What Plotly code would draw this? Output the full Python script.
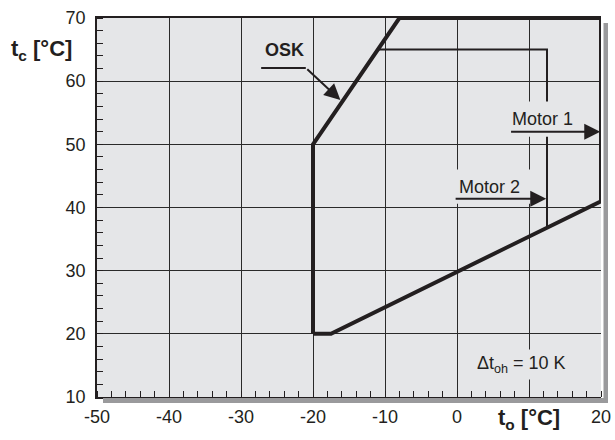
import plotly.graph_objects as go

# ---- data ----
boundary_to = [-20, -20, -8, 20, 20, -17.5, -20]
boundary_tc = [20, 50, 70, 70, 41, 20, 20]
motor_to = [-11, 12.5, 12.5]
motor_tc = [65, 65, 36.8]
x_ticks = [-50, -40, -30, -20, -10, 0, 10, 20]
x_labels = ["-50", "-40", "-30", "-20", "-10", "0", "", "20"]
y_ticks = [10, 20, 30, 40, 50, 60, 70]
y_labels = ["10", "20", "30", "40", "50", "60", "70"]

BG = "#e5e6e8"
INK = "#231f20"
FONT = "Liberation Sans, Arial, sans-serif"

fig = go.Figure()
fig.add_trace(go.Scatter(x=motor_to, y=motor_tc, mode="lines",
                         line=dict(color=INK, width=2), cliponaxis=False,
                         hoverinfo="skip", showlegend=False))
fig.add_trace(go.Scatter(x=boundary_to, y=boundary_tc, mode="lines",
                         line=dict(color=INK, width=4), cliponaxis=False,
                         hoverinfo="skip", showlegend=False))

W, H = 504, 379  # plot area in px
shapes = [
    # drop shadows
    dict(type="rect", xref="paper", yref="paper", x0=1 + 2.5 / W, x1=1 + 7 / W,
         y0=-6 / H, y1=1 - 5 / H, fillcolor="#9a9a9c", line=dict(width=0), layer="above"),
    dict(type="rect", xref="paper", yref="paper", x0=6 / W, x1=1 + 7 / W,
         y0=-6 / H, y1=-1 / H, fillcolor="#9a9a9c", line=dict(width=0), layer="above"),
    # knockouts behind labels
    dict(type="rect", xref="x", yref="y", x0=6.5, x1=17.5, y0=51.2, y1=56.8,
         fillcolor=BG, line=dict(width=0), layer="above"),
    dict(type="rect", xref="x", yref="y", x0=-0.7, x1=11.8, y0=40.6, y1=46.0,
         fillcolor=BG, line=dict(width=0), layer="above"),
    # OSK leader horizontal
    dict(type="line", xref="x", yref="y", x0=-27.2, x1=-21.0, y0=62.1, y1=62.1,
         line=dict(color=INK, width=2), layer="above"),
]

ann = [
    dict(x=-24, y=65.0, text="<b>OSK</b>", showarrow=False,
         font=dict(size=18, color=INK, family=FONT)),
    dict(x=-16.2, y=57.0, ax=-21.0, ay=62.1, axref="x", ayref="y", text="",
         showarrow=True, arrowhead=2, arrowsize=1.6, arrowwidth=2, arrowcolor=INK),
    dict(x=11.9, y=54.0, text="Motor 1", showarrow=False,
         font=dict(size=18, color=INK, family=FONT)),
    dict(x=19.9, y=52.0, ax=7.3, ay=52.0, axref="x", ayref="y", text="",
         showarrow=True, arrowhead=2, arrowsize=1.6, arrowwidth=2, arrowcolor=INK),
    dict(x=4.5, y=43.3, text="Motor 2", showarrow=False,
         font=dict(size=18, color=INK, family=FONT)),
    dict(x=12.4, y=41.4, ax=-0.4, ay=41.4, axref="x", ayref="y", text="",
         showarrow=True, arrowhead=2, arrowsize=1.6, arrowwidth=2, arrowcolor=INK),
    dict(x=9.0, y=15.1, text="Δt<sub>oh</sub> = 10 K", showarrow=False,
         bgcolor=BG, borderpad=3,
         font=dict(size=18, color=INK, family=FONT)),
    dict(xref="paper", yref="paper", x=(9 - 97) / W, y=1 - (50 - 18) / H,
         xanchor="left", yanchor="middle", text="<b>t<sub>c</sub> [°C]</b>",
         showarrow=False, font=dict(size=22, color=INK, family=FONT)),
    dict(xref="paper", yref="paper", x=(529 - 97) / W, y=-(419 - 397) / H,
         xanchor="center", yanchor="middle", text="<b>t<sub>o</sub> [°C]</b>",
         showarrow=False, font=dict(size=22, color=INK, family=FONT)),
]

fig.update_layout(
    width=615, height=440,
    margin=dict(l=97, r=14, t=18, b=43, autoexpand=False),
    paper_bgcolor="white", plot_bgcolor=BG,
    shapes=shapes, annotations=ann,
    font=dict(family=FONT, size=18, color=INK),
)
fig.update_xaxes(range=[-50, 20], tickvals=x_ticks, ticktext=x_labels,
                 showgrid=True, gridcolor="#2a2a2a", gridwidth=1,
                 showline=True, linecolor=INK, linewidth=1.5, mirror=True,
                 ticks="", zeroline=False, ticklabelstandoff=3, automargin=False,
                 minor=dict(dtick=2, tick0=-50, ticks="inside", ticklen=6,
                            tickcolor=INK, tickwidth=1, showgrid=False),
                 tickfont=dict(size=18, color=INK, family=FONT), fixedrange=True)
fig.update_yaxes(range=[10, 70], tickvals=y_ticks, ticktext=y_labels,
                 showgrid=True, gridcolor="#2a2a2a", gridwidth=1,
                 showline=True, linecolor=INK, linewidth=1.5, mirror=False,
                 ticks="", zeroline=False, ticklabelstandoff=6, automargin=False,
                 minor=dict(dtick=2, tick0=10, ticks="inside", ticklen=6,
                            tickcolor=INK, tickwidth=1, showgrid=False),
                 tickfont=dict(size=18, color=INK, family=FONT), fixedrange=True)

fig.write_html("out.html")
